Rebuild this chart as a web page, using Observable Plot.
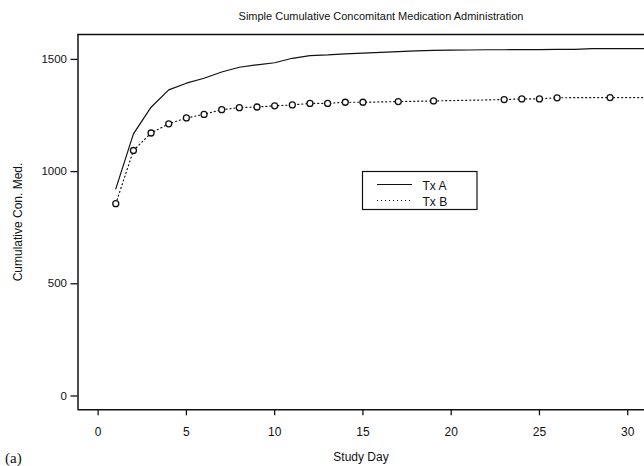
<!DOCTYPE html>
<html>
<head>
<meta charset="utf-8">
<script src="https://cdn.jsdelivr.net/npm/d3@7"></script>
<script src="https://cdn.jsdelivr.net/npm/@observablehq/plot@0.6"></script>
<style>
  html, body { margin: 0; padding: 0; background: #fff; }
  #chart { width: 644px; height: 466px; }
  svg { display: block; }
</style>
</head>
<body>
<div id="chart"></div>
<script>
const title = "Simple Cumulative Concomitant Medication Administration";
const xLabel = "Study Day";
const yLabel = "Cumulative Con. Med.";
const panelLabel = "(a)";
const seriesNames = ["Tx A", "Tx B"];

const xTicks = [0, 5, 10, 15, 20, 25, 30];
const yTicks = [0, 500, 1000, 1500];

const daysA = [1,2,3,4,5,6,7,8,9,10,11,12,13,14,15,16,17,18,19,20,21,22,23,24,25,26,27,28,29,30,31];
const valuesA = [923,1168,1287,1364,1394,1416,1444,1465,1476,1485,1505,1517,1520,1525,1528,1531,1535,1538,1540,1541,1542,1543,1543,1544,1544,1545,1545,1548,1548,1548,1548];

const daysB = [1,2,3,4,5,6,7,8,9,10,11,12,13,14,15,17,19,23,24,25,26,29,31];
const valuesB = [857,1094,1172,1213,1239,1255,1276,1285,1288,1293,1297,1304,1304,1309,1309,1312,1315,1321,1324,1324,1329,1330,1330];
const markedB = [1,1,1,1,1,1,1,1,1,1,1,1,1,1,1,1,1,1,1,1,1,1,0];

const dataA = daysA.map((d, i) => ({day: d, value: valuesA[i]}));
const dataB = daysB.map((d, i) => ({day: d, value: valuesB[i], marked: markedB[i]}));

const xDomain = [-1.14, 30.95];
const yDomain = [-61.6, 1611];

const W = 644, H = 466;
const ink = "#111";

const plot = Plot.plot({
  width: W,
  height: H,
  marginLeft: 77.5,
  marginRight: 0,
  marginTop: 34,
  marginBottom: 56.7,
  style: {fontFamily: "'Liberation Sans', Arial, sans-serif", fontSize: "12px", background: "#fff", color: ink},
  x: {domain: xDomain},
  y: {domain: yDomain},
  marks: [
    Plot.axisX({ticks: xTicks, tickFormat: d => String(d), tickSize: 6, tickPadding: 12, label: null, stroke: ink, strokeWidth: 1.3, fontSize: 12}),
    Plot.axisY({ticks: yTicks, tickFormat: d => String(d), tickSize: 7, tickPadding: 4, label: null, stroke: ink, strokeWidth: 1.3, fontSize: 11.5}),
    Plot.ruleX([xDomain[0]], {stroke: ink, strokeWidth: 1.5}),
    Plot.ruleY([yDomain[0]], {stroke: ink, strokeWidth: 1.5}),
    Plot.ruleY([yDomain[1]], {stroke: ink, strokeWidth: 1.5}),
    Plot.line(dataA, {x: "day", y: "value", stroke: ink, strokeWidth: 1.2, clip: true}),
    Plot.line(dataB, {x: "day", y: "value", stroke: ink, strokeWidth: 1.2, strokeDasharray: "1,3", clip: true}),
    Plot.dot(dataB.filter(d => d.marked), {x: "day", y: "value", r: 3, stroke: ink, strokeWidth: 1.3, fill: "#fff"})
  ]
});

document.getElementById("chart").appendChild(plot);

const svg = d3.select(plot);
const font = "'Liberation Sans', Arial, sans-serif";

svg.append("text").text(title)
  .attr("x", 381).attr("y", 20).attr("text-anchor", "middle")
  .attr("font-family", font).attr("font-size", 11).attr("fill", ink);

svg.append("text").text(xLabel)
  .attr("x", 361).attr("y", 461).attr("text-anchor", "middle")
  .attr("font-family", font).attr("font-size", 12).attr("fill", ink);

svg.append("text").text(yLabel)
  .attr("transform", "translate(22,222) rotate(-90)").attr("text-anchor", "middle")
  .attr("font-family", font).attr("font-size", 12).attr("fill", ink);

svg.append("text").text(panelLabel)
  .attr("x", 5).attr("y", 463).attr("text-anchor", "start")
  .attr("font-family", "'Liberation Serif', 'DejaVu Serif', serif").attr("font-size", 15).attr("fill", ink);

const lg = svg.append("g");
lg.append("rect").attr("x", 362.5).attr("y", 171.5).attr("width", 114.5).attr("height", 38)
  .attr("fill", "#fff").attr("stroke", ink).attr("stroke-width", 1.2);
lg.append("line").attr("x1", 377).attr("x2", 412).attr("y1", 184.5).attr("y2", 184.5)
  .attr("stroke", ink).attr("stroke-width", 1.2);
lg.append("line").attr("x1", 377).attr("x2", 412).attr("y1", 200.5).attr("y2", 200.5)
  .attr("stroke", ink).attr("stroke-width", 1.2).attr("stroke-dasharray", "1,3");
lg.append("text").text(seriesNames[0]).attr("x", 422.5).attr("y", 190).attr("text-anchor", "start")
  .attr("font-family", font).attr("font-size", 12).attr("fill", ink);
lg.append("text").text(seriesNames[1]).attr("x", 422.5).attr("y", 205.5).attr("text-anchor", "start")
  .attr("font-family", font).attr("font-size", 12).attr("fill", ink);
</script>
</body>
</html>
